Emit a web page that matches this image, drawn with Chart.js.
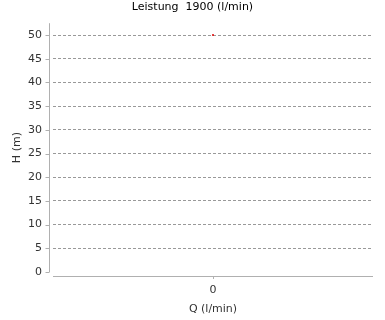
<!DOCTYPE html>
<html>
<head>
<meta charset="utf-8">
<script src="https://cdn.jsdelivr.net/npm/chart.js@4/dist/chart.umd.min.js"></script>
<style>
    html, body { margin: 0; padding: 0; background: #fff; }
    #wrap { width: 385px; height: 320px; }
</style>
</head>
<body>
<div id="wrap"><canvas id="chart-leistung"></canvas></div>
<script>
var categories = ['0'];
var hValues = [50];
var yMin = 0;
var yMax = 52.5;
var yStep = 5;

var FONT = 'DejaVu Sans';

// axes sit a few px away from the plot area, drawn here
var axisLines = {
    id: 'axisLines',
    afterDraw: function (chart) {
        var ctx = chart.ctx;
        var area = chart.chartArea;
        var yScale = chart.scales.y;
        var xScale = chart.scales.x;
        ctx.save();
        ctx.strokeStyle = '#b0b0b0';
        ctx.lineWidth = 1;
        ctx.beginPath();
        ctx.moveTo(area.left - 3.5, area.top);
        ctx.lineTo(area.left - 3.5, area.bottom);
        ctx.moveTo(area.left, area.bottom + 4.5);
        ctx.lineTo(area.right, area.bottom + 4.5);
        yScale.ticks.forEach(function (t) {
            var py = Math.round(yScale.getPixelForValue(t.value)) + 0.5;
            ctx.moveTo(area.left - 7.5, py);
            ctx.lineTo(area.left - 3.5, py);
        });
        xScale.ticks.forEach(function (t, i) {
            var px = Math.round(xScale.getPixelForTick(i)) + 0.5;
            ctx.moveTo(px, area.bottom + 4.5);
            ctx.lineTo(px, area.bottom + 7);
        });
        ctx.stroke();
        ctx.restore();
    }
};

new Chart(document.getElementById('chart-leistung').getContext('2d'), {
    type: 'line',
    data: {
        labels: categories,
        datasets: [{
            label: 'H',
            data: hValues,
            borderColor: '#e00000',
            backgroundColor: '#e00000',
            pointRadius: 1,
            pointBorderWidth: 0,
            showLine: false
        }]
    },
    options: {
        responsive: true,
        maintainAspectRatio: false,
        animation: false,
        layout: { padding: 0 },
        plugins: {
            legend: { display: false },
            tooltip: { enabled: false },
            title: {
                display: true,
                text: 'Leistung  1900 (l/min)',
                color: '#000',
                font: { family: FONT, size: 11, weight: 'normal' },
                padding: { top: 1, bottom: 9 }
            }
        },
        scales: {
            x: {
                type: 'category',
                offset: true,
                grid: { display: false, drawTicks: false },
                border: { display: false },
                ticks: {
                    color: '#333',
                    padding: 12,
                    font: { family: FONT, size: 11 }
                },
                title: {
                    display: true,
                    text: 'Q (l/min)',
                    color: '#333',
                    font: { family: FONT, size: 11 },
                    padding: { top: 0, bottom: 4.5 }
                },
                afterFit: function (scale) { scale.height = 48; }
            },
            y: {
                min: yMin,
                max: yMax,
                grid: {
                    drawTicks: false,
                    color: function (c) {
                        return c.tick && c.tick.value === 0 ? 'rgba(0,0,0,0)' : '#999';
                    },
                    lineWidth: 1
                },
                border: { display: false, dash: [3, 2] },
                ticks: {
                    stepSize: yStep,
                    includeBounds: false,
                    color: '#333',
                    padding: 11,
                    font: { family: FONT, size: 11 }
                },
                title: {
                    display: true,
                    text: 'H (m)',
                    color: '#333',
                    font: { family: FONT, size: 11 },
                    padding: { top: 10.5, bottom: 0 }
                },
                afterFit: function (scale) { scale.width = 53; }
            },
            // empty right margin so the title stays centred on the page
            yRight: {
                position: 'right',
                display: true,
                grid: { display: false, drawTicks: false },
                border: { display: false },
                ticks: { display: false },
                afterFit: function (scale) { scale.width = 12; }
            }
        }
    },
    plugins: [axisLines]
});
</script>
</body>
</html>
